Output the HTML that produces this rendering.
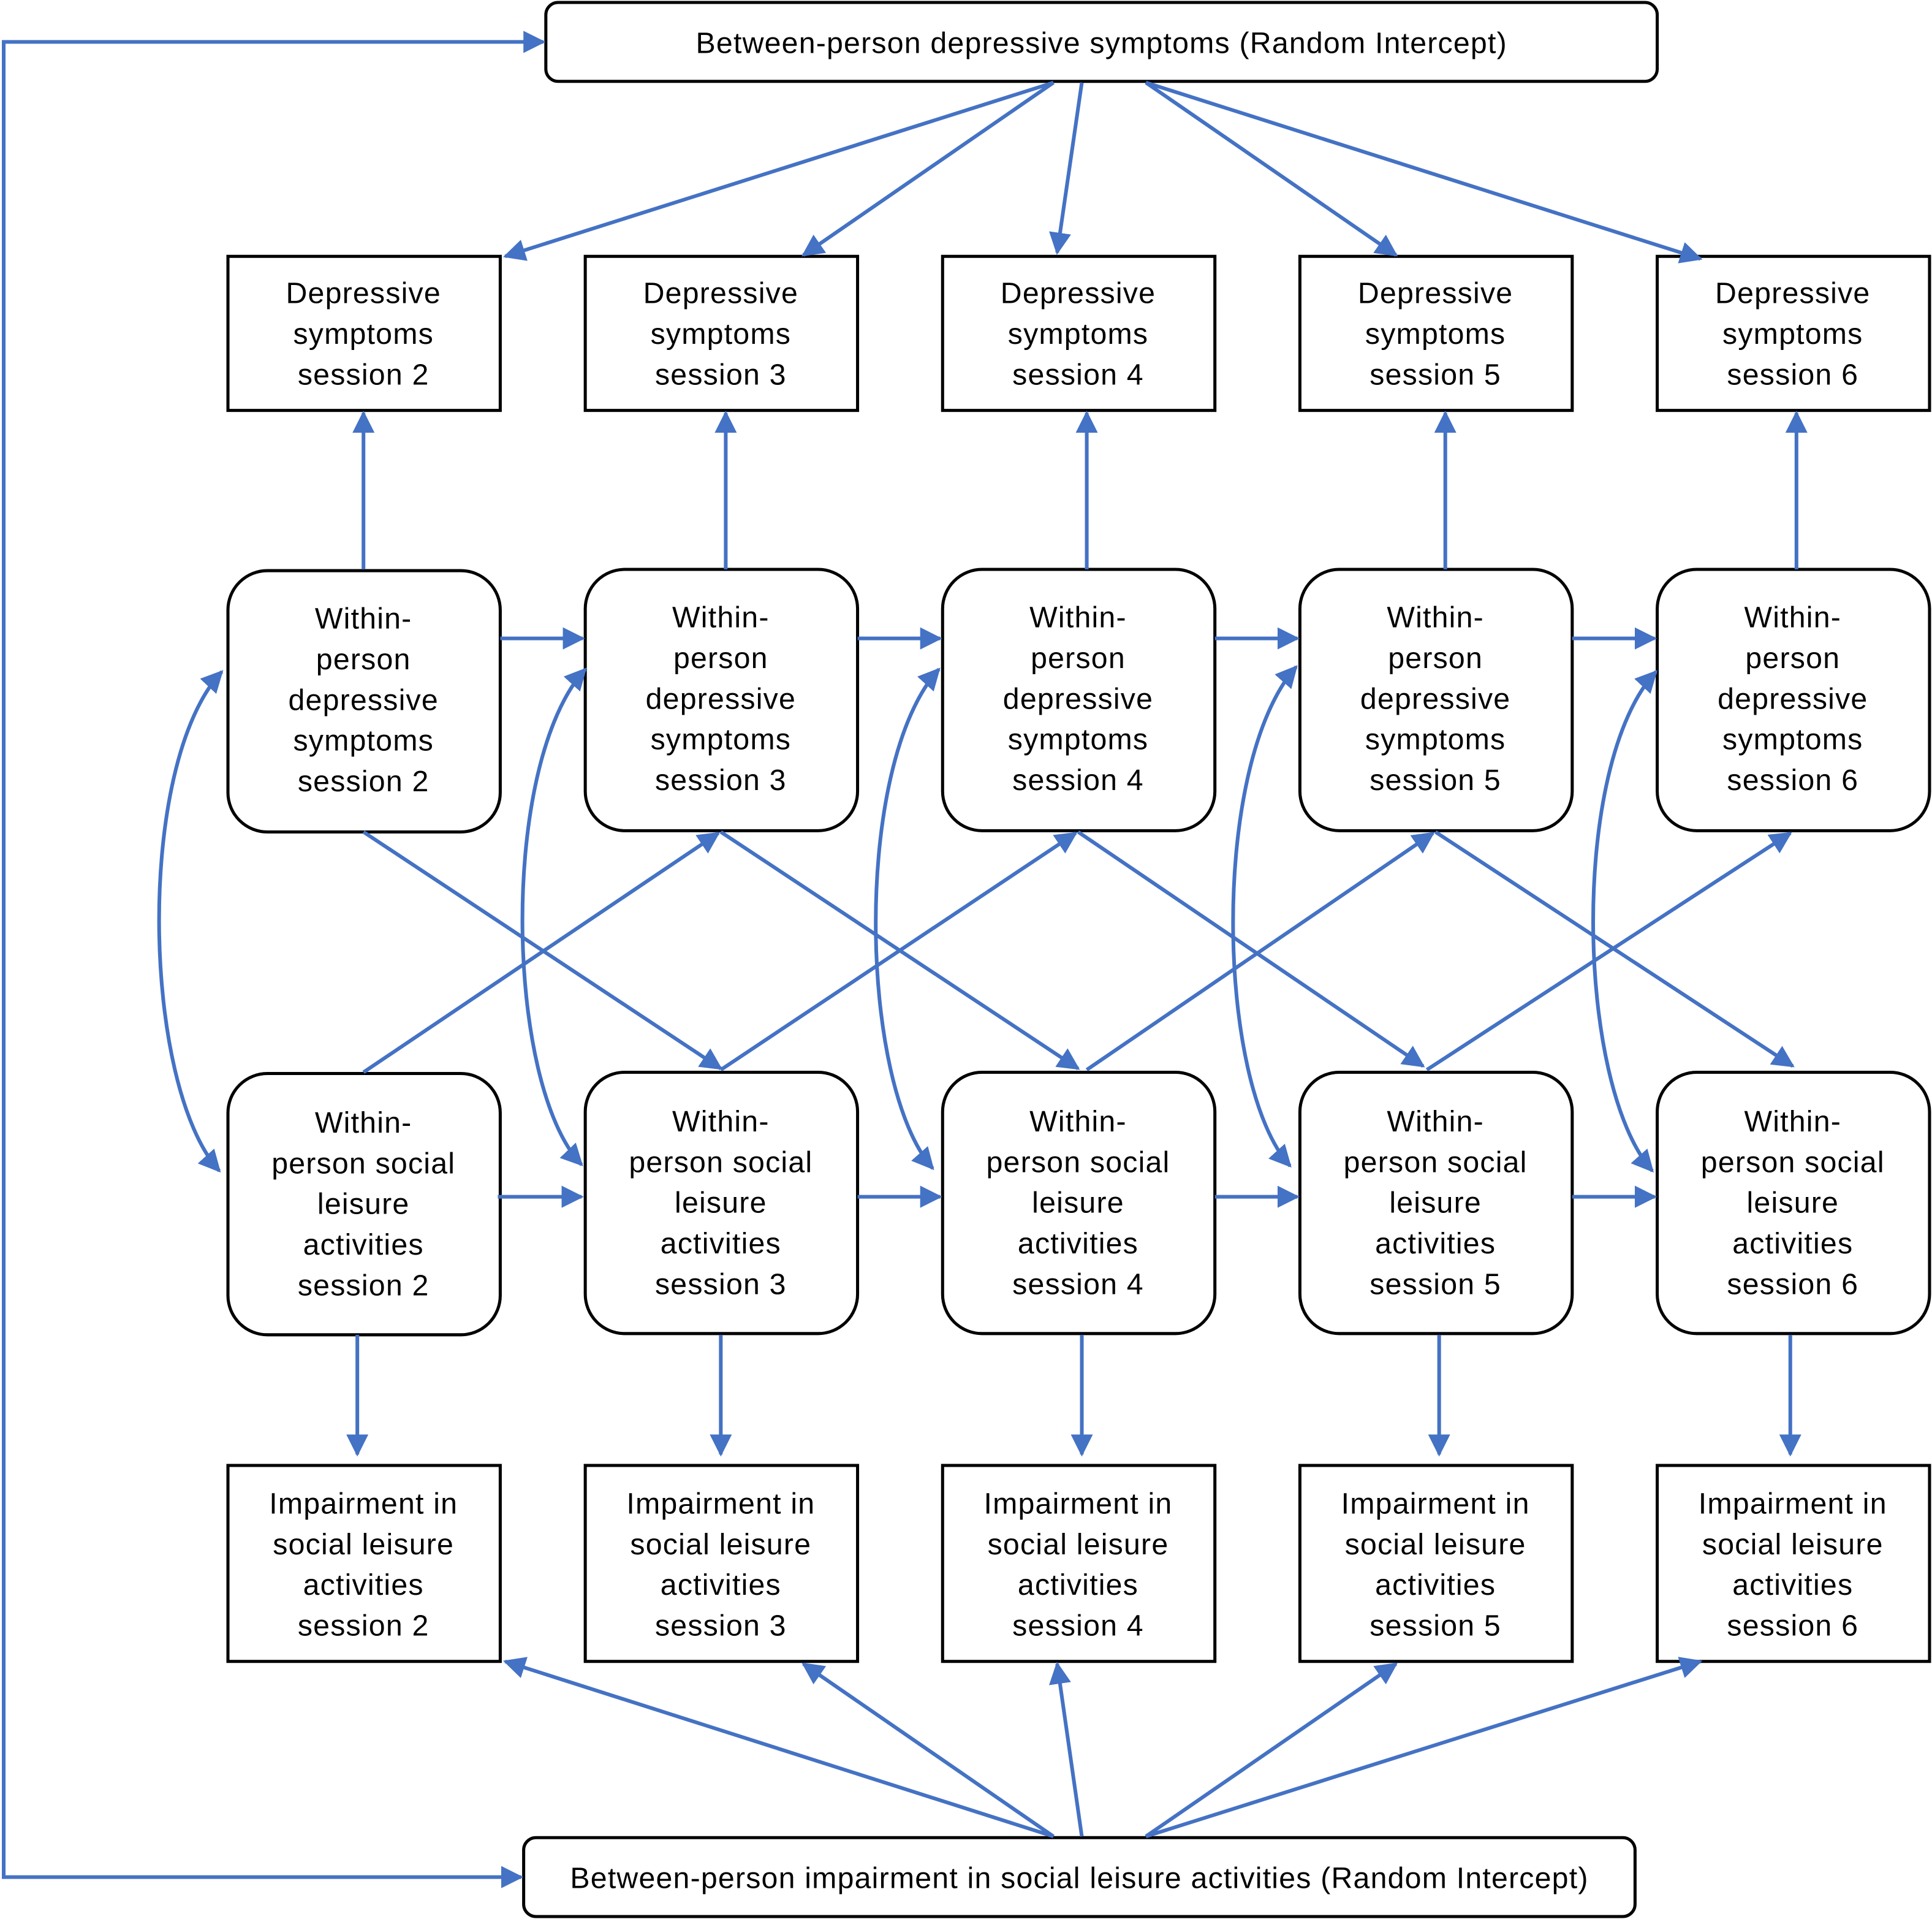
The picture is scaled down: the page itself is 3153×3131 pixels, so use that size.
<!DOCTYPE html>
<html><head><meta charset="utf-8"><style>
html,body{margin:0;padding:0;background:#fff}
svg{display:block}
text{font-family:"Liberation Sans",sans-serif;font-size:24px;letter-spacing:0.6px;fill:#000;text-anchor:middle}
</style></head><body>
<svg width="3153" height="3131" viewBox="0 0 1568 1557" preserveAspectRatio="none" xmlns="http://www.w3.org/2000/svg">
<defs>
<marker id="a" viewBox="0 0 10 10" refX="9" refY="5" markerWidth="6" markerHeight="6" orient="auto-start-reverse" markerUnits="strokeWidth">
<path d="M0,0 L10,5 L0,10 z" fill="#4472C4"/></marker>
</defs>
<g fill="none" stroke="#000" stroke-width="2.5">
<rect x="443" y="2" width="902" height="64" rx="10"/>
<rect x="425" y="1491" width="902" height="64" rx="10"/>
<rect x="185" y="208" width="221" height="125"/>
<rect x="475" y="208" width="221" height="125"/>
<rect x="765" y="208" width="221" height="125"/>
<rect x="1055" y="208" width="221" height="125"/>
<rect x="1345" y="208" width="221" height="125"/>
<rect x="185" y="463" width="221" height="212" rx="32"/>
<rect x="475" y="462" width="221" height="212" rx="32"/>
<rect x="765" y="462" width="221" height="212" rx="32"/>
<rect x="1055" y="462" width="221" height="212" rx="32"/>
<rect x="1345" y="462" width="221" height="212" rx="32"/>
<rect x="185" y="871" width="221" height="212" rx="32"/>
<rect x="475" y="870" width="221" height="212" rx="32"/>
<rect x="765" y="870" width="221" height="212" rx="32"/>
<rect x="1055" y="870" width="221" height="212" rx="32"/>
<rect x="1345" y="870" width="221" height="212" rx="32"/>
<rect x="185" y="1189" width="221" height="159"/>
<rect x="475" y="1189" width="221" height="159"/>
<rect x="765" y="1189" width="221" height="159"/>
<rect x="1055" y="1189" width="221" height="159"/>
<rect x="1345" y="1189" width="221" height="159"/>
</g>
<g stroke="#4472C4" stroke-width="3" fill="none" marker-end="url(#a)">
<path d="M855,67 L410,208"/><path d="M855,67 L652,207"/><path d="M878,67 L858,205"/><path d="M930,67 L1133,207"/><path d="M930,67 L1380,210"/>
<path d="M295,462 L295,335"/><path d="M589,462 L589,335"/><path d="M882,462 L882,335"/><path d="M1173,462 L1173,335"/><path d="M1458,462 L1458,335"/>
<path d="M406,518 L473,518"/><path d="M696,518 L763,518"/><path d="M986,518 L1053,518"/><path d="M1276,518 L1343,518"/>
<path d="M404,971 L472,971"/><path d="M696,971 L763,971"/><path d="M986,971 L1053,971"/><path d="M1276,971 L1343,971"/>
<path d="M295,675 L585,867"/><path d="M585,675 L875,867"/><path d="M875,675 L1155,865"/><path d="M1165,675 L1455,865"/>
<path d="M295,870 L583,676"/><path d="M585,868 L873,676"/><path d="M882,868 L1163,676"/><path d="M1158,868 L1453,676"/>
<path d="M290,1083 L290,1180"/><path d="M585,1083 L585,1180"/><path d="M878,1083 L878,1180"/><path d="M1168,1083 L1168,1180"/><path d="M1453,1083 L1453,1180"/>
<path d="M855,1490 L410,1348"/><path d="M855,1490 L652,1350"/><path d="M878,1490 L858,1350"/><path d="M930,1490 L1133,1350"/><path d="M930,1490 L1380,1348"/>
<path marker-start="url(#a)" d="M180,545 C110,620 115,880 178,950"/>
<path marker-start="url(#a)" d="M475,543 C405,620 410,880 472,945"/>
<path marker-start="url(#a)" d="M762,543 C692,620 697,880 757,948"/>
<path marker-start="url(#a)" d="M1052,541 C982,620 987,880 1047,946"/>
<path marker-start="url(#a)" d="M1344,545 C1274,620 1279,880 1341,950"/>
<path marker-start="url(#a)" d="M423,1523 L3,1523 L3,34 L441,34"/>
</g>
<text x="894" y="43">Between-person depressive symptoms (Random Intercept)</text>
<text x="876" y="1532">Between-person impairment in social leisure activities (Random Intercept)</text>
<g>
<text x="295" y="246">Depressive</text><text x="295" y="279">symptoms</text><text x="295" y="312">session 2</text>
<text x="585" y="246">Depressive</text><text x="585" y="279">symptoms</text><text x="585" y="312">session 3</text>
<text x="875" y="246">Depressive</text><text x="875" y="279">symptoms</text><text x="875" y="312">session 4</text>
<text x="1165" y="246">Depressive</text><text x="1165" y="279">symptoms</text><text x="1165" y="312">session 5</text>
<text x="1455" y="246">Depressive</text><text x="1455" y="279">symptoms</text><text x="1455" y="312">session 6</text>
</g>
<g>
<text x="295" y="510">Within-</text><text x="295" y="543">person</text><text x="295" y="576">depressive</text><text x="295" y="609">symptoms</text><text x="295" y="642">session 2</text>
<text x="585" y="509">Within-</text><text x="585" y="542">person</text><text x="585" y="575">depressive</text><text x="585" y="608">symptoms</text><text x="585" y="641">session 3</text>
<text x="875" y="509">Within-</text><text x="875" y="542">person</text><text x="875" y="575">depressive</text><text x="875" y="608">symptoms</text><text x="875" y="641">session 4</text>
<text x="1165" y="509">Within-</text><text x="1165" y="542">person</text><text x="1165" y="575">depressive</text><text x="1165" y="608">symptoms</text><text x="1165" y="641">session 5</text>
<text x="1455" y="509">Within-</text><text x="1455" y="542">person</text><text x="1455" y="575">depressive</text><text x="1455" y="608">symptoms</text><text x="1455" y="641">session 6</text>
</g>
<g>
<text x="295" y="919">Within-</text><text x="295" y="952">person social</text><text x="295" y="985">leisure</text><text x="295" y="1018">activities</text><text x="295" y="1051">session 2</text>
<text x="585" y="918">Within-</text><text x="585" y="951">person social</text><text x="585" y="984">leisure</text><text x="585" y="1017">activities</text><text x="585" y="1050">session 3</text>
<text x="875" y="918">Within-</text><text x="875" y="951">person social</text><text x="875" y="984">leisure</text><text x="875" y="1017">activities</text><text x="875" y="1050">session 4</text>
<text x="1165" y="918">Within-</text><text x="1165" y="951">person social</text><text x="1165" y="984">leisure</text><text x="1165" y="1017">activities</text><text x="1165" y="1050">session 5</text>
<text x="1455" y="918">Within-</text><text x="1455" y="951">person social</text><text x="1455" y="984">leisure</text><text x="1455" y="1017">activities</text><text x="1455" y="1050">session 6</text>
</g>
<g>
<text x="295" y="1228">Impairment in</text><text x="295" y="1261">social leisure</text><text x="295" y="1294">activities</text><text x="295" y="1327">session 2</text>
<text x="585" y="1228">Impairment in</text><text x="585" y="1261">social leisure</text><text x="585" y="1294">activities</text><text x="585" y="1327">session 3</text>
<text x="875" y="1228">Impairment in</text><text x="875" y="1261">social leisure</text><text x="875" y="1294">activities</text><text x="875" y="1327">session 4</text>
<text x="1165" y="1228">Impairment in</text><text x="1165" y="1261">social leisure</text><text x="1165" y="1294">activities</text><text x="1165" y="1327">session 5</text>
<text x="1455" y="1228">Impairment in</text><text x="1455" y="1261">social leisure</text><text x="1455" y="1294">activities</text><text x="1455" y="1327">session 6</text>
</g>
</svg>
</body></html>
